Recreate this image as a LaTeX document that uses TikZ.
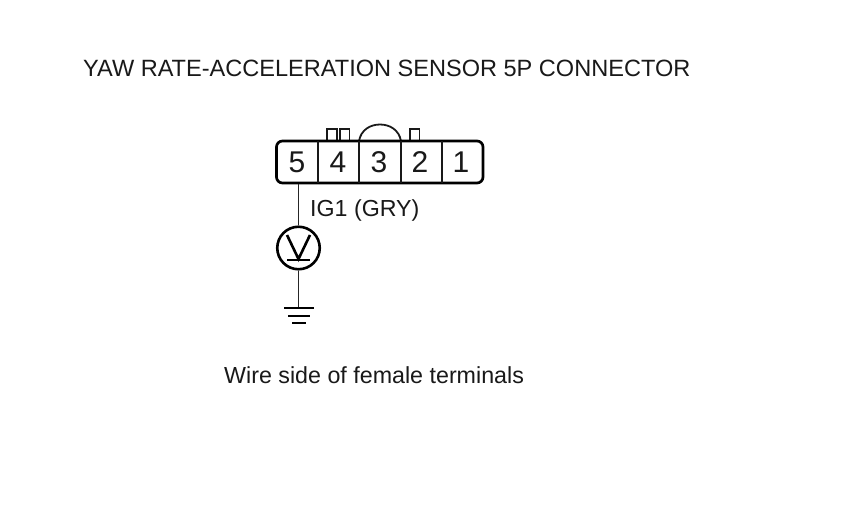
\documentclass[tikz,border=0pt]{standalone}
\usepackage{fontspec}
\setmainfont{Liberation Sans}
\newcommand{\pxfont}[1]{\fontsize{#1}{#1}\selectfont}
\tikzset{
  wire/.style={draw=black!85,line width=1.3pt},
  body/.style={draw=black,line width=2.7pt},
  thin part/.style={draw=black!90,line width=1.8pt},
  symb/.style={draw=black,line width=2.6pt},
  lab/.style={inner sep=0pt,text=black!90,anchor=base west},
  pin/.style={inner sep=0pt,text=black!90,anchor=base,font=\pxfont{30}}
}
\begin{document}
\begin{tikzpicture}[x=1pt,y=-1pt]
\useasboundingbox[fill=white] (0,0) rectangle (860,524);
\node[lab,font=\pxfont{23.55}] (title) at (83,76.5) {YAW RATE-ACCELERATION SENSOR 5P CONNECTOR};
% tabs and hood
\draw[thin part] (326.7,141) -- (326.7,129) -- (336.7,129) -- (336.7,141);
\draw[thin part] (340,141) -- (340,129) -- (349.5,129) -- (349.5,141);
\draw[thin part] (410,141) -- (410,129) -- (419.5,129) -- (419.5,141);
\draw[thin part] (359,141) .. controls (361,130) and (370,124.5) .. (380,124.5) .. controls (390,124.5) and (399,130) .. (401,141);
% connector body
\draw[body,rounded corners=6pt,fill=white] (276.5,141) rectangle (483,183);
\foreach \x in {317.7,359,400.7,441.7} \draw[thin part] (\x,141) -- (\x,183);
\node[pin] (p5) at (297,172.5) {5};
\node[pin] (p4) at (338,172.5) {4};
\node[pin] (p3) at (379,172.5) {3};
\node[pin] (p2) at (420,172.5) {2};
\node[pin] (p1) at (461,172.5) {1};
% meter
\coordinate (wtop) at (298.5,184);
\node[circle,symb,minimum size=42.5pt,inner sep=0pt] (v) at (298.5,248) {};
\coordinate (gnd) at (298.5,308);
\draw[wire] (wtop) -- (v.north);
\draw[wire] (v.south) -- (gnd);
\draw[symb,line join=miter] (287,235) -- (298.5,259) -- (310,235);
\draw[symb] (287,260) -- (310,260);
\draw[symb] (284,308) -- (314,308);
\draw[symb] (288,316) -- (310,316);
\draw[symb] (292,323) -- (306,323);
\node[lab,font=\pxfont{23.2}] (ig) at (310,216) {IG1 (GRY)};
\node[lab,font=\pxfont{23.25}] (note) at (224,383) {Wire side of female terminals};
\end{tikzpicture}
\end{document}
